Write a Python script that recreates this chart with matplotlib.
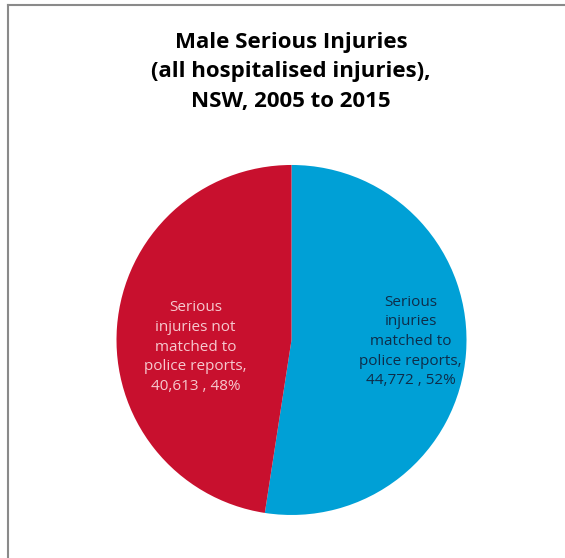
import matplotlib
matplotlib.use("Agg")
import matplotlib.pyplot as plt
from matplotlib.lines import Line2D
import numpy as np

# data
labels = ["Serious\ninjuries\nmatched to\npolice reports,\n44,772 , 52%",
          "Serious\ninjuries not\nmatched to\npolice reports,\n40,613 , 48%"]
values = [44772, 40613]
colors = ["#00A0D6", "#C8102E"]
text_colors = ["#0E2D4A", "#F6C9CF"]
# label placement (radius, angle shift from wedge middle, degrees)
label_radius = [0.68, 0.55]
label_shift = [3.6, 8.6]

plt.rcParams['font.family'] = ['Open Sans', 'DejaVu Sans']

fig = plt.figure(figsize=(5.65, 5.58), dpi=100)
ax = fig.add_axes([0.2062, 0.0771, 350 / 565, 350 / 558])

wedges, _ = ax.pie(values, colors=colors, startangle=90, counterclock=False,
                   wedgeprops=dict(linewidth=0))
ax.set_xlim(-1, 1)
ax.set_ylim(-1, 1)
ax.set_aspect("auto")

for w, lab, tc, r, s in zip(wedges, labels, text_colors, label_radius, label_shift):
    ang = np.deg2rad((w.theta1 + w.theta2) / 2 + s)
    ax.text(r * np.cos(ang), r * np.sin(ang), lab, ha="center", va="center",
            color=tc, fontsize=11, linespacing=1.42)

fig.text(291 / 565, 1 - 72 / 558,
         "Male Serious Injuries\n(all hospitalised injuries),\nNSW, 2005 to 2015",
         ha="center", va="center", fontsize=16, fontweight="bold",
         linespacing=1.55, color="black")

# chart area border (top and left visible)
fig.add_artist(Line2D([8 / 565, 1.0], [1 - 5 / 558, 1 - 5 / 558],
                      transform=fig.transFigure, color="#8A8A8A", lw=1.5))
fig.add_artist(Line2D([8 / 565, 8 / 565], [0.0, 1 - 5 / 558],
                      transform=fig.transFigure, color="#8A8A8A", lw=1.5))

fig.savefig("out.png", dpi=100)
